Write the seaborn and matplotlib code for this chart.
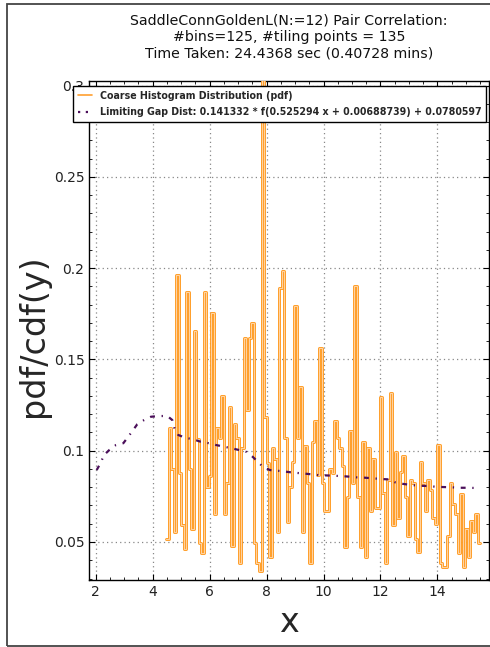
import numpy as np
import pandas as pd
import matplotlib
matplotlib.use("Agg")
import matplotlib.pyplot as plt
import matplotlib.patheffects as pe
from matplotlib.ticker import MultipleLocator
from matplotlib.patches import Rectangle
from matplotlib.lines import Line2D
import seaborn as sns

# ---------------- data ----------------
hist_range = (4.47, 15.50)
n_bins = 125
hist_values = [
    0.0516, 0.1126, 0.0898, 0.0556, 0.1962, 0.0880, 0.0593, 0.0462, 0.1867, 0.0898,
    0.0570, 0.1657, 0.1062, 0.0496, 0.0441, 0.1867, 0.0803, 0.0861, 0.1752, 0.0653,
    0.1126, 0.1068, 0.1300, 0.0653, 0.0821, 0.1241, 0.0478, 0.1146, 0.1068, 0.0383,
    0.1013, 0.1619, 0.1223, 0.1619, 0.1698, 0.0496, 0.0383, 0.0343, 0.3300, 0.1183,
    0.0934, 0.0420, 0.1013, 0.0953, 0.0556, 0.1889, 0.1984, 0.1068, 0.0611, 0.0803,
    0.0936, 0.1794, 0.1068, 0.1350, 0.0553, 0.1027, 0.0821, 0.0383, 0.1046, 0.1164,
    0.0867, 0.1561, 0.0821, 0.0670, 0.0670, 0.0898, 0.0880, 0.1164, 0.1068, 0.1013,
    0.0916, 0.0474, 0.0745, 0.1108, 0.0821, 0.1904, 0.0745, 0.0474, 0.1049, 0.0416,
    0.1013, 0.0670, 0.0955, 0.0688, 0.0688, 0.1296, 0.0767, 0.0383, 0.0840, 0.1314,
    0.0593, 0.0991, 0.0630, 0.0885, 0.0973, 0.0745, 0.0535, 0.0840, 0.0821, 0.0516,
    0.0444, 0.0936, 0.0821, 0.0670, 0.0840, 0.0785, 0.0630, 0.0600, 0.1031, 0.0383,
    0.0365, 0.0365, 0.0535, 0.0821, 0.0706, 0.0652, 0.0441, 0.0761, 0.0365, 0.0571,
    0.0420, 0.0615, 0.0553, 0.0652, 0.0496,
]

curve_x = [2.035, 2.176, 2.29, 2.48, 2.71, 2.97, 3.145, 3.30, 3.46, 3.70, 3.94, 4.22,
           4.515, 4.69, 4.76, 4.90, 5.15, 5.43, 5.69, 5.98, 6.23, 6.51, 6.78, 7.03,
           7.30, 7.51, 7.69, 7.87, 8.12, 8.41, 8.68, 8.94, 9.24, 9.50, 9.78, 10.05,
           10.35, 10.62, 10.90, 11.17, 11.46, 11.73, 12.01, 12.29, 12.51, 12.80, 13.10,
           13.37, 13.63, 13.92, 14.19, 14.47, 14.74, 15.03, 15.32]
curve_y = [0.0894, 0.0934, 0.0976, 0.1004, 0.1031, 0.1041, 0.1077, 0.1110, 0.1145,
           0.1168, 0.1186, 0.1190, 0.1190, 0.1168, 0.1126, 0.1086, 0.1071, 0.1062,
           0.1049, 0.1041, 0.1031, 0.1022, 0.1013, 0.1004, 0.0993, 0.0967, 0.0940,
           0.0912, 0.0894, 0.0890, 0.0885, 0.0880, 0.0876, 0.0872, 0.0867, 0.0865,
           0.0863, 0.0861, 0.0858, 0.0854, 0.0852, 0.0849, 0.0845, 0.0843, 0.0827,
           0.0818, 0.0812, 0.0808, 0.0807, 0.0803, 0.0801, 0.0800, 0.0797, 0.0797,
           0.0796]

title_lines = ["SaddleConnGoldenL(N:=12) Pair Correlation:",
               "#bins=125, #tiling points = 135",
               "Time Taken: 24.4368 sec (0.40728 mins)"]
hist_label = "Coarse Histogram Distribution (pdf)"
curve_label = "Limiting Gap Dist: 0.141332 * f(0.525294 x + 0.00688739) + 0.0780597"
x_label = "x"
y_label = "pdf/cdf(y)"

HIST_EDGE = "#ff9a1e"
HIST_FILL = "#ffd2a0"
CURVE_COLOR = "#4b0f5a"

# ---------------- style ----------------
sns.set_style("ticks")
plt.rcParams["font.family"] = ["DejaVu Sans"]
plt.rcParams.update({
    "xtick.direction": "in", "ytick.direction": "in",
    "xtick.top": True, "ytick.right": True,
    "xtick.minor.visible": True, "ytick.minor.visible": True,
    "xtick.major.size": 4.5, "ytick.major.size": 4.5,
    "xtick.minor.size": 2.2, "ytick.minor.size": 2.2,
    "xtick.color": "black", "ytick.color": "black",
    "xtick.labelcolor": "#222222", "ytick.labelcolor": "#222222",
    "axes.edgecolor": "black", "axes.linewidth": 1.0,
})

fig = plt.figure(figsize=(4.90, 6.47), dpi=100)
ax = fig.add_axes([0.1822, 0.1036, 0.8151, 0.7712])

edges = np.linspace(hist_range[0], hist_range[1], n_bins + 1)
vals = np.array(hist_values, dtype=float)
step_df = pd.DataFrame({"x": edges, "y": np.append(vals, vals[-1])})
curve_df = pd.DataFrame({"x": curve_x, "y": curve_y})

sns.lineplot(data=step_df, x="x", y="y", ax=ax, drawstyle="steps-post",
             estimator=None, sort=False, color=HIST_FILL, linewidth=0.8,
             zorder=3, legend=False,
             path_effects=[pe.Stroke(linewidth=2.1, foreground=HIST_EDGE), pe.Normal()])
sns.lineplot(data=curve_df, x="x", y="y", ax=ax, estimator=None, sort=False,
             color=CURVE_COLOR, linewidth=1.6, legend=False, zorder=4)
line = ax.get_lines()[-1]
line.set_dashes((2.2, 3.0, 0.6, 3.0))

ax.set_xlim(1.775, 15.80)
ax.set_ylim(0.0292, 0.3025)
ax.xaxis.set_minor_locator(MultipleLocator(0.5))
ax.yaxis.set_minor_locator(MultipleLocator(0.01))
ax.set_xticks(np.arange(2, 15, 2))
ax.set_xticklabels([str(v) for v in range(2, 15, 2)])
ax.set_yticks([0.05, 0.1, 0.15, 0.2, 0.25, 0.3])
ax.set_yticklabels(["0.05", "0.1", "0.15", "0.2", "0.25", "0.3"])
ax.tick_params(labelsize=10)
ax.grid(True, which="major", linestyle=(0, (1, 2.5)), color="#888888", linewidth=0.9)

ax.set_xlabel(x_label, fontsize=24)
ax.set_ylabel(y_label, fontsize=24)
ax.xaxis.set_label_coords(0.5, -0.053)
ax.yaxis.set_label_coords(-0.098, 0.49)

fig.text(0.5896, 1 - 14 / 647, "\n".join(title_lines), ha="center", va="top",
         fontsize=10.2, linespacing=1.2, color="#111111")

handles = [Line2D([], [], color="#ffa030", linewidth=1.2),
           Line2D([], [], color=CURVE_COLOR, linewidth=1.6, dashes=(1.0, 2.5))]
leg = ax.legend(handles, [hist_label, curve_label],
                loc="upper left", bbox_to_anchor=(73 / 490, 1 - 86 / 647),
                bbox_transform=fig.transFigure, borderaxespad=0,
                prop={"weight": "bold", "size": 6.85}, handlelength=1.5,
                labelspacing=0.7, borderpad=0.5,
                frameon=True, fancybox=False, shadow=False, framealpha=1,
                edgecolor="black")
leg.get_frame().set_linewidth(1.0)
leg.set_zorder(10)

fig.patches.append(Rectangle((7 / 490, 1 / 647), 1.2, 642 / 647,
                             transform=fig.transFigure, fill=False,
                             edgecolor="#444444", linewidth=1.3, clip_on=False))

fig.savefig("out.png", dpi=100)
